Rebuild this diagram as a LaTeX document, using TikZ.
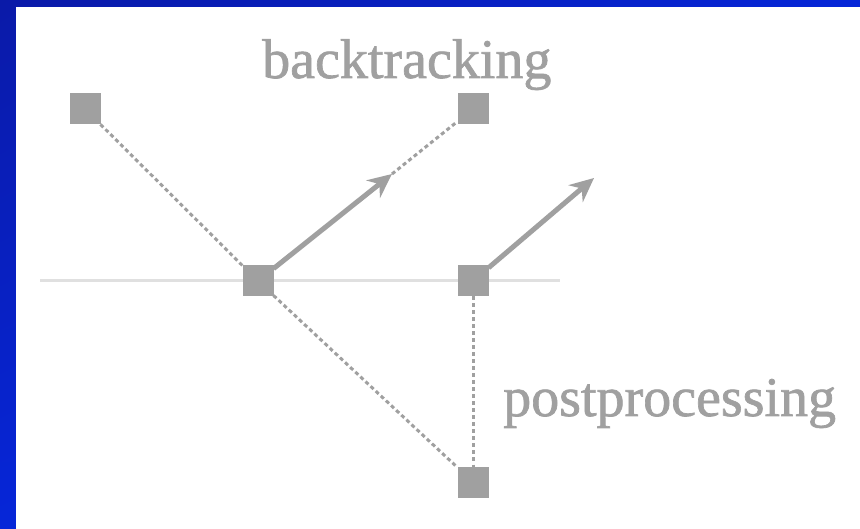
\documentclass[tikz,border=0pt]{standalone}
\usepackage{fontspec}
\setmainfont{Liberation Serif}
\newfontfamily\lblfont[FakeBold=1.2]{Liberation Serif}
\usetikzlibrary{arrows.meta,shadings}
\definecolor{gmark}{HTML}{A0A0A0}
\definecolor{gline}{HTML}{E0E0E0}
\definecolor{bdark}{HTML}{0A1AA8}
\definecolor{bmid}{HTML}{0626D8}
\definecolor{blight}{HTML}{0630F0}
\tikzset{
  sq/.style={fill=gmark, draw=none, minimum size=31pt, inner sep=0pt, outer sep=0pt},
  dotline/.style={draw=gmark, line width=3pt, dash pattern=on 4pt off 3pt},
  thickarrow/.style={draw=gmark, line width=5pt, -{Stealth[length=24pt,width=22pt]}},
  lbl/.style={text=gmark, font=\lblfont\fontsize{56}{60}\selectfont, inner sep=0pt, anchor=base west}
}
\begin{document}
\begin{tikzpicture}[x=1pt,y=1pt]
\useasboundingbox (0,0) rectangle (860,528);
\shade[upper left=bdark, upper right=bmid, lower left=bmid, lower right=blight] (0,0) rectangle (860,528);
\fill[white] (16,-5) rectangle (865,521);
\draw[gline, line width=3pt] (40,247) -- (560,247);
\node[sq] (a) at (85,419) {};
\node[sq] (b) at (258,247) {};
\node[sq] (c) at (473,419) {};
\node[sq] (d) at (473,247) {};
\node[sq] (e) at (473,46) {};
\coordinate (t1) at (392,354);
\coordinate (t2) at (594,350);
\draw[dotline] (a) -- (b);
\draw[dotline] (b) -- (e);
\draw[dotline] (d) -- (e);
\draw[dotline] (t1) -- (c);
\draw[thickarrow] (b) -- (t1);
\draw[thickarrow] (d) -- (t2);
\node[lbl] (bt) at (262,450) {backtracking};
\node[lbl] (pp) at (503,112) {postprocessing};
\end{tikzpicture}
\end{document}
